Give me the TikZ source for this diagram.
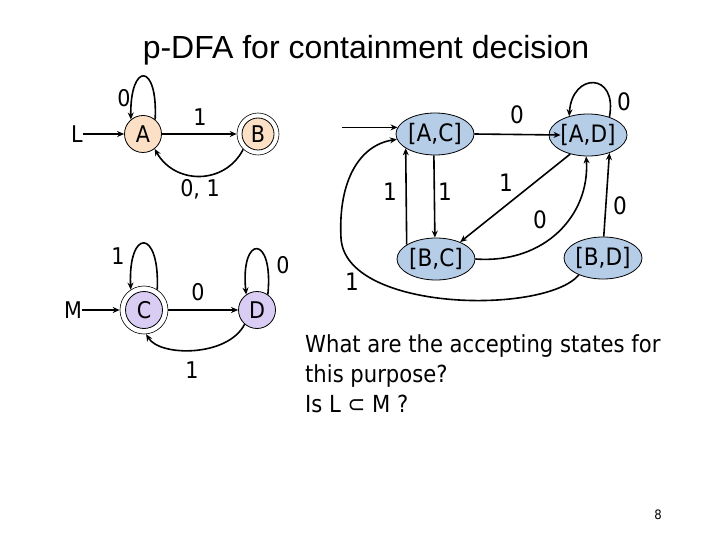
\documentclass[tikz,border=0pt]{standalone}
\usepackage{fontspec}
\setmainfont{DejaVu Sans Condensed}
\newfontfamily\titlefont{Liberation Sans}
\usetikzlibrary{arrows.meta,shapes.geometric,calc}
\definecolor{peach}{HTML}{FBE0C6}
\definecolor{lav}{HTML}{DACDF3}
\definecolor{sblue}{HTML}{B6CDE8}
\begin{document}
\begin{tikzpicture}[x=1pt,y=-1pt,
  every node/.style={inner sep=0pt},
  lbl/.style={font=\fontsize{23}{26}\selectfont},
  rlbl/.style={font=\fontsize{24}{27}\selectfont},
  qtext/.style={anchor=base west,font=\fontsize{23.5}{29}\selectfont},
  st/.style={circle,draw,line width=0.8pt,minimum size=37pt,font=\fontsize{23}{26}\selectfont},
  ring/.style={circle,draw,line width=0.6pt,fill=white},
  ell/.style={ellipse,draw,line width=0.8pt,fill=sblue,minimum width=78pt,minimum height=42pt,font=\fontsize{24}{27}\selectfont},
  edge/.style={line width=1.6pt,-{Stealth[length=7pt,width=6pt]}}]
\useasboundingbox (0,0) rectangle (720,540);
\fill[white] (0,0) rectangle (720,540);
% title
\node[font=\titlefont\fontsize{32}{36}\selectfont] (title) at (366,50) {p-DFA for containment decision};
% ---- automaton L
\node[lbl] (L) at (77,134) {L};
\node[st,fill=peach] (A) at (143,134) {A};
\node[ring,minimum size=42pt] (B) at (258,134) {};
\node[st,fill=peach,minimum size=32pt] (Bin) at (258,134) {B};
\draw[edge] (L) -- (A);
\draw[edge] (A) -- (B);
\draw[edge] (A.50) .. controls (158,62) and (130,62) .. (A.130);
\draw[edge] (B.226) .. controls (225,185) and (175,185) .. (A.-52);
\node[lbl] (l1) at (124,98) {0};
\node[lbl] (l2) at (200,117) {1};
\node[lbl] (l3) at (200,189) {0, 1};
% ---- automaton M
\node[lbl] (M) at (73,310) {M};
\node[ring,minimum size=48pt] (C) at (144,310) {};
\node[st,fill=lav] (Cin) at (144,310) {C};
\node[st,fill=lav] (D) at (257,310) {D};
\draw[edge] (M) -- (C);
\draw[edge] (C) -- (D);
\draw[edge] (C.57) .. controls (160,228) and (128,228) .. (C.123);
\draw[edge] (D.55) .. controls (274,234) and (240,234) .. (D.125);
\draw[edge] (D.229) .. controls (228,357) and (160,357) .. (C.-85);
\node[lbl] (m1) at (118,256) {1};
\node[lbl] (m2) at (198,292) {0};
\node[lbl] (m3) at (283,265) {0};
\node[lbl] (m4) at (192,370) {1};
% ---- product automaton
\node[ell] (AC) at (435,134) {[A,C]};
\node[ell] (AD) at (588,135) {[A,D]};
\node[ell] (BC) at (436,259) {[B,C]};
\node[ell] (BD) at (603,258) {[B,D]};
\coordinate (s) at (342,127);
\coordinate (k) at (341,238);
\draw[edge] (AC.170 -| s) -- (AC.170);
\draw[edge] (AC.east) -- ([xshift=12pt]AD.west);
\draw[edge] (AD.40) .. controls (618,72) and (572,72) .. (AD.135);
\draw[edge] (AC.267) -- (BC.93);
\draw[edge] (BC.154) -- (AC.206);
\draw[edge] (AD.227) -- (BC.35);
\draw[edge] (BC.0) .. controls (545,264) and (590,215) .. (AD.265);
\draw[edge] (BD.88) -- (AD.-40);
\draw[edge] (BD.215) .. controls (545,315) and (345,312) .. (k)
   .. controls (338,180) and (360,145) .. (AC.188);
\node[rlbl] (p1) at (517,115) {0};
\node[rlbl] (p2) at (624,102) {0};
\node[rlbl] (p3) at (390,192) {1};
\node[rlbl] (p4) at (445,192) {1};
\node[rlbl] (p5) at (506,183) {1};
\node[rlbl] (p6) at (540,220) {0};
\node[rlbl] (p7) at (620,206) {0};
\node[rlbl] (p8) at (352,282) {1};
% ---- question text
\node[qtext] (q1) at (305,352) {What are the accepting states for};
\node[qtext] (q2) at (305,382) {this purpose?};
\node[qtext] (q3) at (305,412) {Is L ⊂ M ?};
\node[font=\fontsize{13}{15}\selectfont] (pg) at (658,515) {8};
\end{tikzpicture}
\end{document}
